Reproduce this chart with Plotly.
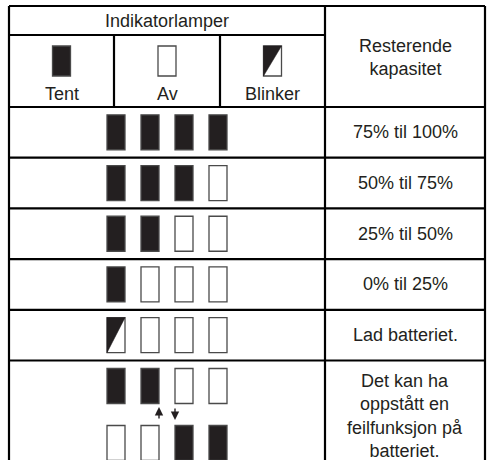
import plotly.graph_objects as go

# ---- data ----
header_left = "Indikatorlamper"
header_right = "Resterende<br>kapasitet"
legend_labels = ["Tent", "Av", "Blinker"]
legend_states = ["on", "off", "blink"]
row_lamps = [
    ["on", "on", "on", "on"],
    ["on", "on", "on", "off"],
    ["on", "on", "off", "off"],
    ["on", "off", "off", "off"],
    ["blink", "off", "off", "off"],
]
row_labels = ["75% til 100%", "50% til 75%", "25% til 50%", "0% til 25%", "Lad batteriet."]
fault_lamps_top = ["on", "on", "off", "off"]
fault_lamps_bottom = ["off", "off", "on", "on"]
fault_label = "Det kan ha<br>oppstått en<br>feilfunksjon på<br>batteriet."

# ---- layout constants (pixels) ----
W, H = 490, 460
X_L, X_M, X_R = 9, 325, 485
Y_TOP, Y_HDR1, Y_HDR2 = 6, 35, 107
ROW_H = 50.7
LEG_X = [9, 114, 220, 325]
LAMP_W, LAMP_H = 18, 35
LAMP_GAP = 34
INK = "#231f20"
EDGE = "#4a4a4a"
FONT = dict(family="Liberation Sans, Arial, sans-serif", size=18, color=INK)

fig = go.Figure()
shapes = []
annotations = []


def line(x0, y0, x1, y1, w=2.2):
    shapes.append(dict(type="line", x0=x0, y0=y0, x1=x1, y1=y1, xref="x", yref="y",
                       line=dict(color="black", width=w)))


def lamp(xc, yc, w, h, state):
    x0, x1 = xc - w / 2, xc + w / 2
    y0, y1 = yc - h / 2, yc + h / 2
    fill = INK if state == "on" else "white"
    shapes.append(dict(type="rect", x0=x0, x1=x1, y0=y0, y1=y1, xref="x", yref="y",
                       fillcolor=fill, line=dict(color=EDGE, width=1.3)))
    if state == "blink":
        shapes.append(dict(type="path", xref="x", yref="y",
                           path=f"M {x0},{y0} L {x1},{y0} L {x0},{y1} Z",
                           fillcolor=INK, line=dict(color=INK, width=0.5)))


def text(x, y, s):
    annotations.append(dict(x=x, y=y, xref="x", yref="y", text=s, showarrow=False,
                            font=FONT, xanchor="center", yanchor="middle", align="center"))


def lamp_row(yc, states):
    xc_mid = (X_L + X_M) / 2
    n = len(states)
    for i, st in enumerate(states):
        xc = xc_mid + (i - (n - 1) / 2) * LAMP_GAP
        lamp(xc, yc, LAMP_W, LAMP_H, st)


# header
text((X_L + X_M) / 2, 20.5, header_left)
text((X_M + X_R) / 2, 57, header_right)
for i, (lab, st) in enumerate(zip(legend_labels, legend_states)):
    xc = (LEG_X[i] + LEG_X[i + 1]) / 2
    lamp(xc, 61, 18, 30, st)
    text(xc, 94, lab)

# rows
row_tops = [Y_HDR2 + k * ROW_H for k in range(len(row_lamps) + 1)]
for k, (states, lab) in enumerate(zip(row_lamps, row_labels)):
    yc = row_tops[k] + ROW_H / 2
    lamp_row(yc, states)
    text((X_M + X_R) / 2, yc, lab)

# fault row
yf = row_tops[-1]
lamp_row(yf + 25.5, fault_lamps_top)
lamp_row(yf + 82.5, fault_lamps_bottom)
xc_mid = (X_L + X_M) / 2
# arrows between the two lamp states
annotations.append(dict(x=xc_mid - 8, y=yf + 46.5, ax=xc_mid - 8, ay=yf + 59.5,
                        xref="x", yref="y", axref="x", ayref="y", text="", showarrow=True,
                        arrowhead=2, arrowsize=1.2, arrowwidth=1.4, arrowcolor=INK))
annotations.append(dict(x=xc_mid + 8, y=yf + 59.5, ax=xc_mid + 8, ay=yf + 46.5,
                        xref="x", yref="y", axref="x", ayref="y", text="", showarrow=True,
                        arrowhead=2, arrowsize=1.2, arrowwidth=1.4, arrowcolor=INK))
text((X_M + X_R) / 2, yf + 55, fault_label)

# grid lines
line(X_L, Y_TOP, X_R, Y_TOP)
line(X_L, Y_TOP, X_L, H + 5)
line(X_R, Y_TOP, X_R, H + 5)
line(X_M, Y_TOP, X_M, H + 5)
line(X_L, Y_HDR1, X_M, Y_HDR1)
line(LEG_X[1], Y_HDR1, LEG_X[1], Y_HDR2)
line(LEG_X[2], Y_HDR1, LEG_X[2], Y_HDR2)
for yt in row_tops:
    line(X_L, yt, X_R, yt)

fig.update_layout(
    width=W, height=H,
    margin=dict(l=0, r=0, t=0, b=0),
    paper_bgcolor="white", plot_bgcolor="white",
    xaxis=dict(range=[0, W], visible=False, fixedrange=True),
    yaxis=dict(range=[H, 0], visible=False, fixedrange=True),
    shapes=shapes, annotations=annotations, showlegend=False,
)
fig.write_html("out.html", config={"displayModeBar": False},
               post_script="document.body.style.margin='0';document.body.style.overflow='hidden';")
